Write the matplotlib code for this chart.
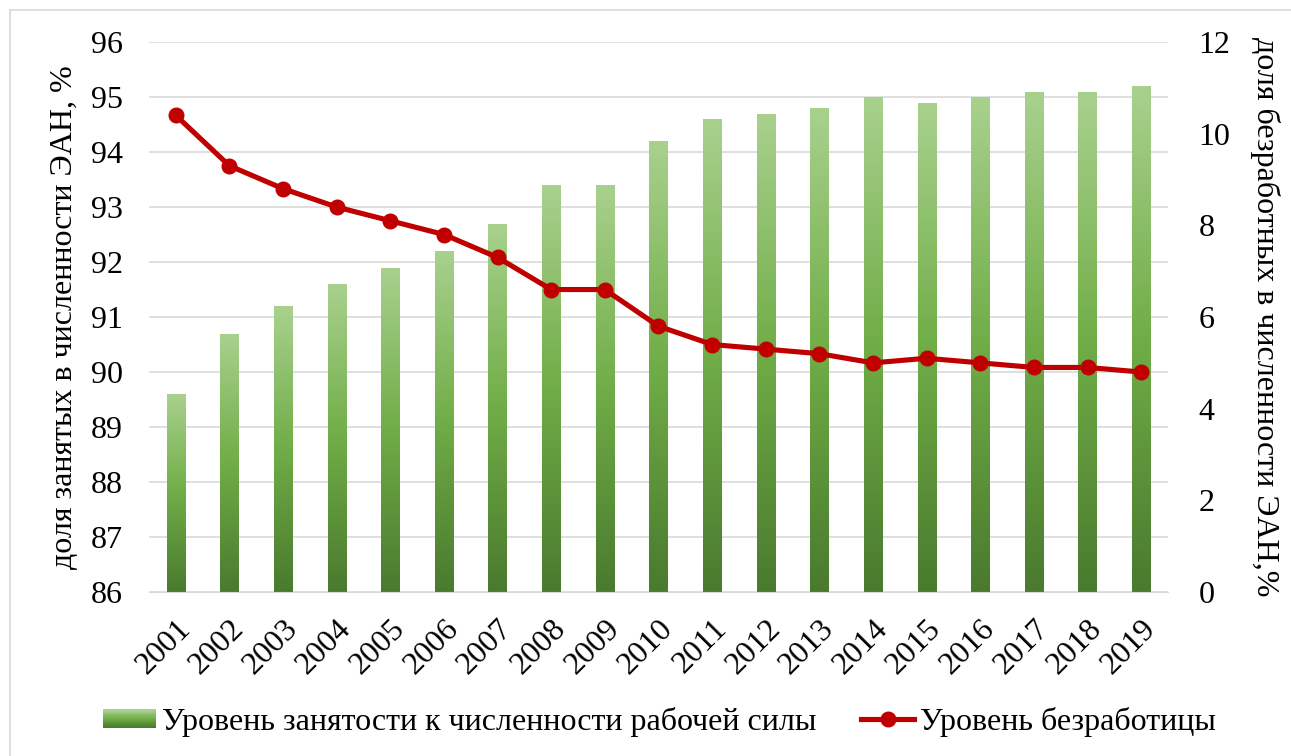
import numpy as np
import matplotlib.pyplot as plt
from matplotlib.colors import LinearSegmentedColormap
from matplotlib.patches import Rectangle
from matplotlib.legend_handler import HandlerBase
from matplotlib.lines import Line2D

plt.rcParams['font.family'] = ['Liberation Serif', 'DejaVu Serif']

years = ['2001', '2002', '2003', '2004', '2005', '2006', '2007', '2008', '2009', '2010',
         '2011', '2012', '2013', '2014', '2015', '2016', '2017', '2018', '2019']
employment = [89.6, 90.7, 91.2, 91.6, 91.9, 92.2, 92.7, 93.4, 93.4, 94.2,
              94.6, 94.7, 94.8, 95.0, 94.9, 95.0, 95.1, 95.1, 95.2]
unemployment = [10.4, 9.3, 8.8, 8.4, 8.1, 7.8, 7.3, 6.6, 6.6, 5.8,
                5.4, 5.3, 5.2, 5.0, 5.1, 5.0, 4.9, 4.9, 4.8]

cmap = LinearSegmentedColormap.from_list('g', ['#4a7a2e', '#70ad47', '#a9d18e'])
grad = np.linspace(0, 1, 256).reshape(-1, 1)
FS = 23


class GradientHandler(HandlerBase):
    # legend key drawn as stacked strips to mimic the bar gradient
    def create_artists(self, legend, orig_handle, xdescent, ydescent,
                       width, height, fontsize, trans):
        n = 20
        hh = height * 0.8
        y0 = -ydescent + (height - hh) / 2
        arts = []
        for i in range(n):
            r = Rectangle((-xdescent, y0 + hh * i / n), width, hh / n + 0.3,
                          facecolor=cmap(i / (n - 1)), edgecolor='none', transform=trans)
            arts.append(r)
        return arts


fig = plt.figure(figsize=(12.91, 7.56), dpi=100)
# chart-area border (only left and top edges fall inside the image)
fig.add_artist(Line2D([10 / 1291, 10 / 1291], [0, 1 - 10 / 756], color='#d9d9d9', linewidth=1.2,
                      transform=fig.transFigure))
fig.add_artist(Line2D([10 / 1291, 1], [1 - 10 / 756, 1 - 10 / 756], color='#d9d9d9', linewidth=1.2,
                      transform=fig.transFigure))

ax = fig.add_axes([0.1154, 0.2169, 0.7893, 0.7275])
x = np.arange(len(years))

bars = ax.bar(x, employment, width=0.34, color='none', edgecolor='none')
for b in bars:
    x0, y0 = b.get_x(), 86
    w, h = b.get_width(), b.get_height() - 86
    im = ax.imshow(grad, extent=[x0, x0 + w, y0, y0 + h], origin='lower',
                   cmap=cmap, aspect='auto', zorder=2)
    im.set_clip_path(Rectangle((x0, y0), w, h, transform=ax.transData))

ax.set_xlim(-0.5, len(years) - 0.5)
ax.set_ylim(86, 96)
ax.set_yticks(range(86, 97))
ax.set_xticks(x)
ax.set_xticklabels(years, rotation=45, ha='right', rotation_mode='anchor')
ax.grid(axis='y', color='#d9d9d9', linewidth=1.2)
ax.set_axisbelow(True)
for s in ['top', 'left', 'right']:
    ax.spines[s].set_visible(False)
ax.spines['bottom'].set_color('#d9d9d9')
ax.tick_params(length=0, labelsize=FS)
ax.tick_params(axis='y', pad=19)
ax.tick_params(axis='x', pad=16)
ax.set_ylabel('доля занятых в численности ЭАН, %', fontsize=FS, labelpad=8)

ax2 = ax.twinx()
ax2.plot(x, unemployment, color='#c00000', linewidth=3.7, marker='o', markersize=10.5, zorder=5)
ax2.set_ylim(0, 12)
ax2.set_yticks(range(0, 13, 2))
for s in ['top', 'left', 'right', 'bottom']:
    ax2.spines[s].set_visible(False)
ax2.tick_params(length=0, labelsize=FS, pad=22)
ax2.set_ylabel('доля безработных в численности ЭАН,%', fontsize=FS, rotation=-90,
               labelpad=14, va='bottom')

h1 = Rectangle((0, 0), 1, 1)
h2 = Line2D([], [], color='#c00000', linewidth=3.7, marker='o', markersize=10.5)
fig.legend([h1, h2], ['Уровень занятости к численности рабочей силы', 'Уровень безработицы'],
           handler_map={Rectangle: GradientHandler()}, loc='center', bbox_to_anchor=(0.511, 0.045),
           ncol=2, frameon=False, fontsize=FS, handlelength=1.65, handletextpad=0.2,
           columnspacing=1.4)

fig.savefig('out.png', dpi=100)
